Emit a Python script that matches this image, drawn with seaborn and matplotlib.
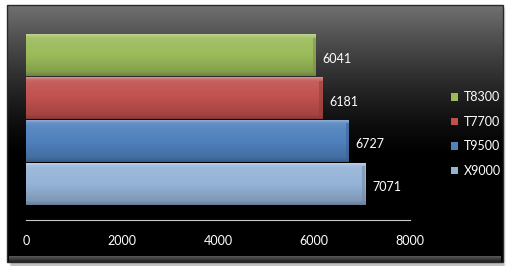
import numpy as np
import matplotlib
matplotlib.use("Agg")
import matplotlib.pyplot as plt
from matplotlib.patches import Patch, Rectangle
from matplotlib.colors import to_rgb
import seaborn as sns

# Benchmark scores per CPU model (top to bottom)
models = ["T8300", "T7700", "T9500", "X9000"]
scores = [6041, 6181, 6727, 7071]
bar_colors = ["#9bbb59", "#c0504d", "#4f81bd", "#95b3d7"]
x_ticks = [0, 2000, 4000, 6000, 8000]

sns.set_theme(style="white")
plt.rcParams["font.family"] = ["Lato", "DejaVu Sans"]

W, H = 510, 275
fig = plt.figure(figsize=(W / 100, H / 100), dpi=100)
fig.patch.set_facecolor("white")

# Background layer in pixel coordinates: dark panel with a vertical gradient
bg = fig.add_axes([0, 0, 1, 1], zorder=-5)
bg.set_xlim(0, W)
bg.set_ylim(H, 0)
bg.axis("off")

# soft drop shadow under the panel
for i, a in enumerate([0.06, 0.08, 0.12]):
    bg.add_patch(Rectangle((9 + i, 8 + i), 497 - 2 * i, 258 - i,
                           facecolor="black", alpha=a, edgecolor="none"))

px0, px1, py0, py1 = 7, 503, 5, 262
t = np.linspace(0, 1, 256)[:, None]
grad = np.clip(1 - t / 0.6, 0, 1) ** 1.4
top = np.array([0.44, 0.44, 0.44])
img = grad[..., None] * top[None, None, :]
img = np.repeat(img, 2, axis=1)
bg.imshow(img, extent=(px0, px1, py1, py0), origin="upper",
          aspect="auto", interpolation="bilinear", zorder=1)
# lower bevel lip of the panel
lip = np.linspace(0.35, 0.12, 32)[:, None, None] * np.ones((1, 2, 3))
bg.imshow(lip, extent=(px0 + 2, px1 - 2, py1, py1 - 6), origin="upper",
          aspect="auto", interpolation="bilinear", zorder=2)
bg.add_patch(Rectangle((px0, py0), px1 - px0, py1 - py0, facecolor="none",
                       edgecolor="#2a2a2a", linewidth=1.0, zorder=3))

# Plot area
ax_left, ax_right = 26, 410
ax_top, ax_bottom = 34, 220
ax = fig.add_axes([ax_left / W, (H - ax_bottom) / H,
                   (ax_right - ax_left) / W, (ax_bottom - ax_top) / H])
ax.set_facecolor("none")

sns.barplot(x=scores, y=models, hue=models, palette=bar_colors,
            orient="h", width=0.98, legend=False, ax=ax, saturation=1)

ax.set_xlim(0, 8000)
ax.set_ylim(3.85, -0.5)
ax.set_xticks(x_ticks)
ax.set_xticklabels([str(v) for v in x_ticks], color="white", fontsize=9)
ax.set_yticks([])
ax.set_xlabel("")
ax.set_ylabel("")
ax.tick_params(axis="x", length=0, pad=11)
for side in ["top", "right", "left"]:
    ax.spines[side].set_visible(False)
ax.spines["bottom"].set_color("#c8c8c8")
ax.spines["bottom"].set_linewidth(0.8)


def shade(c, f):
    r = np.array(to_rgb(c))
    if f >= 0:
        return r + (1 - r) * f
    return r * (1 + f)


# Bevelled shading on each bar
for p in ax.patches:
    p.set_edgecolor("none")
    x0, y0, w, h = p.get_x(), p.get_y(), p.get_width(), p.get_height()
    c = p.get_facecolor()[:3]
    rows = np.linspace(0, 1, 64)
    factors = np.interp(rows, [0, 0.06, 0.12, 0.5, 0.9, 1.0],
                        [0.35, 0.15, 0.08, 0.0, -0.15, -0.3])
    g = np.array([shade(c, f) for f in factors])[:, None, :]
    g = np.repeat(g, 2, axis=1)
    ax.imshow(g, extent=(x0, x0 + w, y0 + h, y0), origin="upper",
              aspect="auto", interpolation="bilinear", zorder=3)
    # darker right-hand bevel
    ax.add_patch(Rectangle((x0 + w - 70, y0 + 0.08), 70, h - 0.12,
                           facecolor=shade(c, -0.25), edgecolor="none",
                           alpha=0.5, zorder=4))

ax.set_xlim(0, 8000)
ax.set_ylim(3.85, -0.5)

# Value labels
for i, v in enumerate(scores):
    ax.text(v + 140, i + 0.08, str(v), color="white", fontsize=9,
            va="center", ha="left", zorder=5)

# Legend
handles = [Patch(facecolor=c, edgecolor="none", label=m)
           for m, c in zip(models, bar_colors)]
leg = fig.legend(handles=handles, loc="center left",
                 bbox_to_anchor=(440 / W, 1 - 134 / H), frameon=False,
                 fontsize=9, labelcolor="white", handlelength=0.55,
                 handleheight=0.55, handletextpad=0.45, labelspacing=1.0)

fig.savefig("out.png", dpi=100, facecolor="white")
